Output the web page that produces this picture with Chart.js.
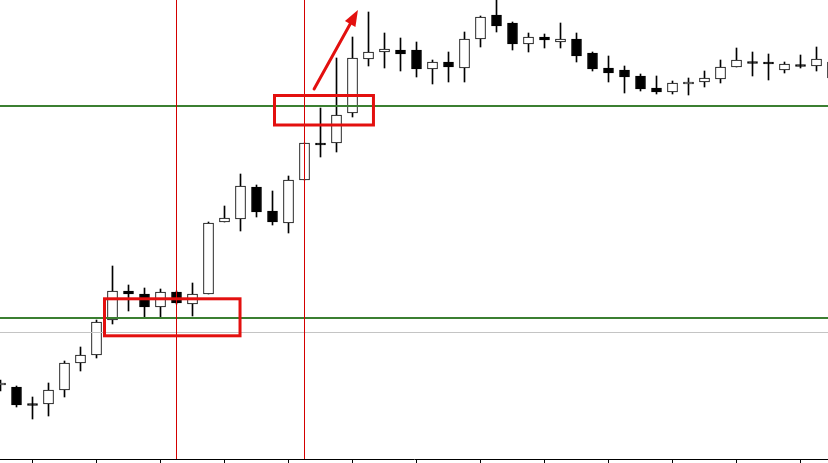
<!DOCTYPE html>
<html>
<head>
<meta charset="utf-8">
<script src="https://cdn.jsdelivr.net/npm/chart.js@4/dist/chart.umd.min.js"></script>
<style>
  html, body { margin: 0; padding: 0; background: #ffffff; }
  #wrap { width: 828px; height: 463px; position: relative; }
</style>
</head>
<body>
<div id="wrap"><canvas id="c" width="828" height="463"></canvas></div>
<script>
// ---- Data (price levels) ----
const candleIndex = [0,1,2,3,4,5,6,7,8,9,10,11,12,13,14,15,16,17,18,19,20,21,22,23,24,25,26,
  27,28,29,30,31,32,33,34,35,36,37,38,39,40,41,42,43,44,45,46,47,48,49,50,51,52];
const openPrices  = [74,72,55.5,55,69,96,104,139,168,165,152,167,155,165,237,240,272,248,236,279,316,316,346,400,407,409,409,
  390,397,391,420,444,436,415,422,417,420,406,391,389,383,371,367,375,377,380,392,397.5,397,389,394.5,393,381];
const highPrices  = [79,73,62,76,98,112,139,193,174,171,170,168,176,237,253,285,274,268,283,316,351,401,422,447,426,421,417,
  399,407,427,443,459,437,426,425,436,426,407,403,393,385,383,378,381,388,399,411,407,405,397,404,412,404];
const lowPrices   = [68,52,40,43,62,88,101,135,148,142,142,155,143,165,237,228,242,234,226,279,302,307,342,393,391,388,382,
  375,377,377,412,427,409,407,411,411,397,388,377,366,368,365,365,364,372,376,392,383,379,386,391,388,374];
const closePrices = [76,54,53.5,69,96,104,137,168,165,152,167,156,165,236,241,273,247,237,279,316,314,344,401,407,410,405,390,
  397,392,420,442,433,415,422,419,420,403,390,386,382,370,367,376,377,381,392,399,395.5,395,395,392.5,400,397];

// x-axis tick positions (no labels shown in the picture)
const tickIndices = [2,6,10,14,18,22,26,30,34,38,42,46,50];
const tickLabels  = ['','','','','','','','','','','','',''];

// horizontal reference levels and marked candles
const greenLevels = [353, 140.7];
const grayLevels  = [127];
const markedCandles = [11, 19];
// highlight boxes: [x from, x to, price top, price bottom]
const boxLeftX   = [6.5, 17.125];
const boxRightX  = [14.97, 23.31];
const boxTopY    = [160.2, 363.5];
const boxBottomY = [123.2, 334];
// arrow: start and tip
const arrowFrom = [19.6, 370];
const arrowTo   = [22.34, 449];

// ---- Build datasets ----
const bodyData = candleIndex.map((x, i) => ({ x: x, y: [openPrices[i], closePrices[i]] }));
const wickData = candleIndex.map((x, i) => ({ x: x, y: [lowPrices[i], highPrices[i]] }));
const bodyColors = candleIndex.map((x, i) => closePrices[i] >= openPrices[i] ? '#ffffff' : '#000000');

const overlayPlugin = {
  id: 'overlay',
  afterDatasetsDraw(chart) {
    const ctx = chart.ctx, xs = chart.scales.x, ys = chart.scales.y, ca = chart.chartArea;
    ctx.save();
    // gray line
    ctx.strokeStyle = '#c4c4c4'; ctx.lineWidth = 1;
    grayLevels.forEach(v => {
      const y = Math.round(ys.getPixelForValue(v)) + 0.5;
      ctx.beginPath(); ctx.moveTo(ca.left, y); ctx.lineTo(ca.right, y); ctx.stroke();
    });
    // green lines
    ctx.strokeStyle = '#3b7f31'; ctx.lineWidth = 2;
    greenLevels.forEach(v => {
      const y = Math.round(ys.getPixelForValue(v));
      ctx.beginPath(); ctx.moveTo(ca.left, y); ctx.lineTo(ca.right, y); ctx.stroke();
    });
    // red verticals
    ctx.strokeStyle = '#d40000'; ctx.lineWidth = 1;
    markedCandles.forEach(v => {
      const x = Math.floor(xs.getPixelForValue(v)) + 0.5;
      ctx.beginPath(); ctx.moveTo(x, ca.top); ctx.lineTo(x, ca.bottom); ctx.stroke();
    });
    // boxes
    ctx.strokeStyle = '#e3100f'; ctx.lineWidth = 3;
    boxLeftX.forEach((bx, i) => {
      const x1 = xs.getPixelForValue(bx), x2 = xs.getPixelForValue(boxRightX[i]);
      const y1 = ys.getPixelForValue(boxTopY[i]), y2 = ys.getPixelForValue(boxBottomY[i]);
      ctx.strokeRect(x1, y1, x2 - x1, y2 - y1);
    });
    // arrow
    const ax1 = xs.getPixelForValue(arrowFrom[0]), ay1 = ys.getPixelForValue(arrowFrom[1]);
    const ax2 = xs.getPixelForValue(arrowTo[0]), ay2 = ys.getPixelForValue(arrowTo[1]);
    const ang = Math.atan2(ay2 - ay1, ax2 - ax1);
    const headLen = 16, headW = 6;
    const bx = ax2 - headLen * Math.cos(ang), by = ay2 - headLen * Math.sin(ang);
    ctx.strokeStyle = '#e3100f'; ctx.fillStyle = '#e3100f'; ctx.lineWidth = 3; ctx.lineCap = 'round';
    ctx.beginPath(); ctx.moveTo(ax1, ay1); ctx.lineTo(bx + 2 * Math.cos(ang), by + 2 * Math.sin(ang)); ctx.stroke();
    ctx.beginPath();
    ctx.moveTo(ax2, ay2);
    ctx.lineTo(bx + headW * Math.sin(ang), by - headW * Math.cos(ang));
    ctx.lineTo(bx - headW * Math.sin(ang), by + headW * Math.cos(ang));
    ctx.closePath(); ctx.fill();
    ctx.restore();
  }
};

new Chart(document.getElementById('c'), {
  type: 'bar',
  data: {
    datasets: [
      {
        label: 'Body',
        data: bodyData,
        backgroundColor: bodyColors,
        borderColor: '#000000',
        borderWidth: 1,
        borderSkipped: false,
        barThickness: 10,
        grouped: false
      },
      {
        label: 'Wick',
        data: wickData,
        backgroundColor: '#000000',
        borderWidth: 0,
        barThickness: 1,
        grouped: false
      }
    ]
  },
  options: {
    responsive: false,
    devicePixelRatio: 1,
    animation: false,
    layout: { padding: 0 },
    plugins: { legend: { display: false }, tooltip: { enabled: false } },
    scales: {
      x: {
        type: 'linear',
        min: -0.03125,
        max: 51.71875,
        offset: false,
        afterBuildTicks: (scale) => { scale.ticks = tickIndices.map(v => ({ value: v })); },
        ticks: { display: false, callback: (v) => tickLabels[tickIndices.indexOf(v)] || '' },
        grid: { drawOnChartArea: false, offset: false, drawTicks: true, tickLength: 4, color: '#000000' },
        border: { display: true, color: '#000000', width: 1 }
      },
      y: {
        type: 'linear',
        display: false,
        min: 0,
        max: 459,
        beginAtZero: false
      }
    }
  },
  plugins: [overlayPlugin]
});
</script>
</body>
</html>
